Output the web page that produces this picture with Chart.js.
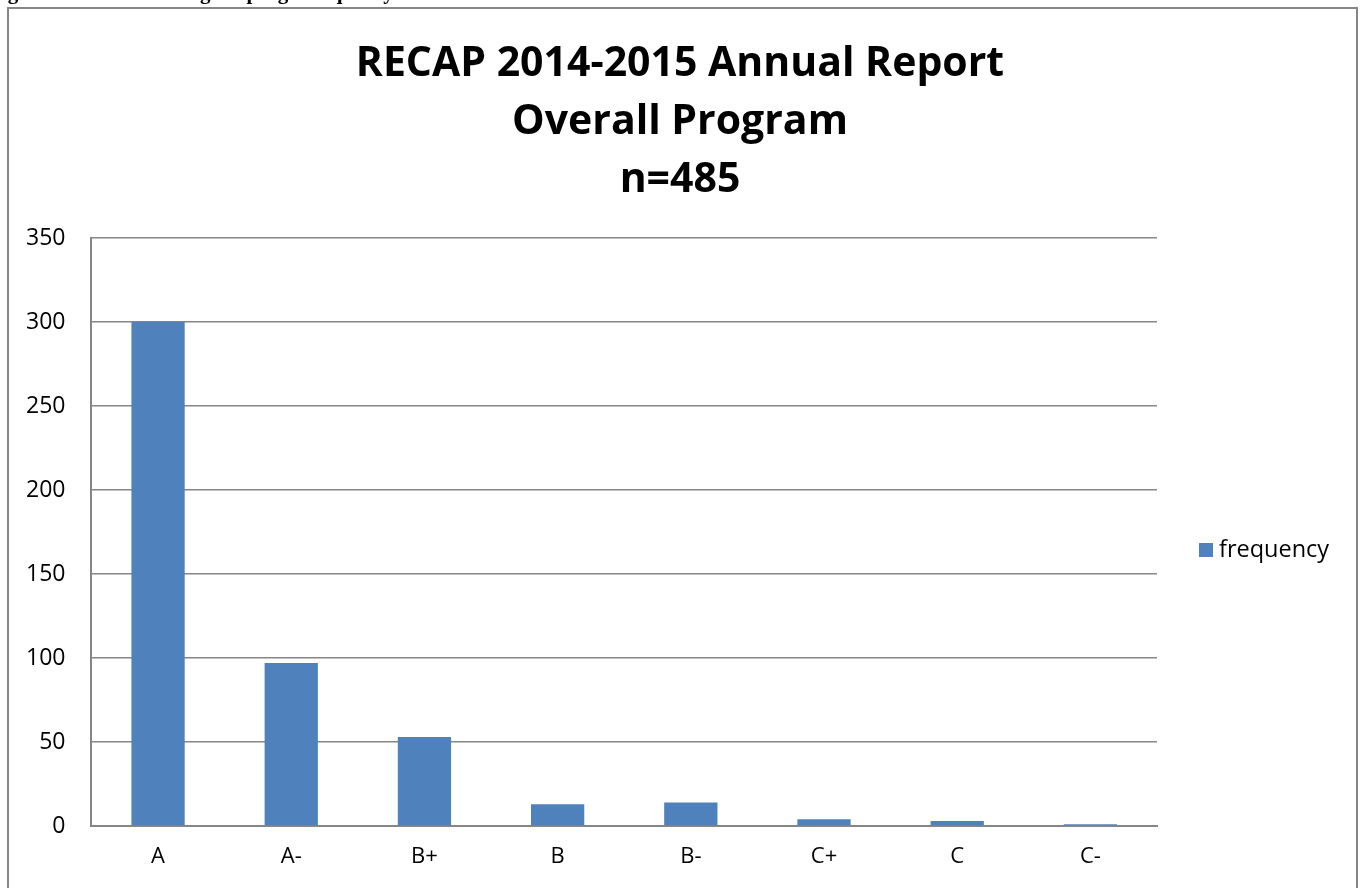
<!DOCTYPE html>
<html>

<head>
    <title>RECAP 2014-2015 Annual Report</title>
    <script src="https://cdn.jsdelivr.net/npm/chart.js"></script>
    <style>
        body { margin: 0; background: #fff; }
        #wrap { width: 1360px; height: 888px; position: relative; }
    </style>
</head>

<body>
    <div id="wrap"><canvas id="gradeChart"></canvas></div>

    <script>
        const grades = ['A', 'A-', 'B+', 'B', 'B-', 'C+', 'C', 'C-'];
        const frequency = [300, 97, 53, 13, 14, 4, 3, 1];
        const titleLines = ['RECAP 2014-2015 Annual Report', 'Overall Program', 'n=485'];
        const seriesName = 'frequency';
        const captionText = "Figure 1: Parents' ratings of program quality";

        const barColor = '#4f81bd';
        const lineGray = '#868686';

        // outer frame, the clipped caption above it and the legend on the right
        const framePlugin = {
            id: 'frame',
            beforeDraw(chart) {
                const ctx = chart.ctx;
                ctx.save();
                ctx.fillStyle = '#fff';
                ctx.fillRect(0, 0, chart.width, chart.height);
                ctx.strokeStyle = lineGray;
                ctx.lineWidth = 2;
                ctx.strokeRect(8, 8, 1349, 900);
                ctx.fillStyle = '#000';
                ctx.font = 'bold 21px "Liberation Serif"';
                ctx.textBaseline = 'alphabetic';
                ctx.fillText(captionText, -11, -1);
                ctx.restore();
            },
            afterDraw(chart) {
                const ctx = chart.ctx;
                ctx.save();
                ctx.fillStyle = barColor;
                ctx.fillRect(1199, 543, 14, 14);
                ctx.fillStyle = '#000';
                ctx.font = '23.5px "Open Sans"';
                ctx.textBaseline = 'middle';
                ctx.fillText(seriesName, 1219, 550);
                ctx.restore();
            }
        };

        const ctx = document.getElementById('gradeChart').getContext('2d');

        const data = {
            labels: grades,
            datasets: [{
                label: seriesName,
                data: frequency,
                backgroundColor: barColor,
                borderWidth: 0,
                categoryPercentage: 1,
                barPercentage: 0.4
            }]
        };

        const options = {
            responsive: true,
            maintainAspectRatio: false,
            animation: false,
            layout: {
                padding: { top: 0, left: 0, right: 0, bottom: 0 }
            },
            plugins: {
                legend: { display: false },
                tooltip: { enabled: false },
                title: {
                    display: true,
                    text: titleLines,
                    color: '#000',
                    font: { family: 'Open Sans', weight: 'bold', size: 41, lineHeight: 1.415 },
                    padding: { top: 35, bottom: 29 }
                }
            },
            scales: {
                x: {
                    grid: { display: false, drawTicks: false },
                    border: { color: lineGray, width: 2 },
                    ticks: {
                        color: '#000',
                        padding: 20,
                        font: { family: 'Open Sans', size: 22, lineHeight: 1 }
                    }
                },
                y: {
                    min: 0,
                    max: 350,
                    grid: { color: lineGray, lineWidth: 1.5, drawTicks: false },
                    border: { color: lineGray, width: 2 },
                    ticks: {
                        stepSize: 50,
                        color: '#000',
                        padding: 26,
                        font: { family: 'Open Sans', size: 23 }
                    }
                },
                // empty right-hand scale that only keeps room for the legend
                spacer: {
                    position: 'right',
                    grid: { display: false, drawTicks: false },
                    border: { display: false },
                    ticks: { display: false },
                    afterFit(scale) { scale.width = 203; }
                }
            }
        };

        new Chart(ctx, { type: 'bar', data, options, plugins: [framePlugin] });
    </script>

</body>

</html>
